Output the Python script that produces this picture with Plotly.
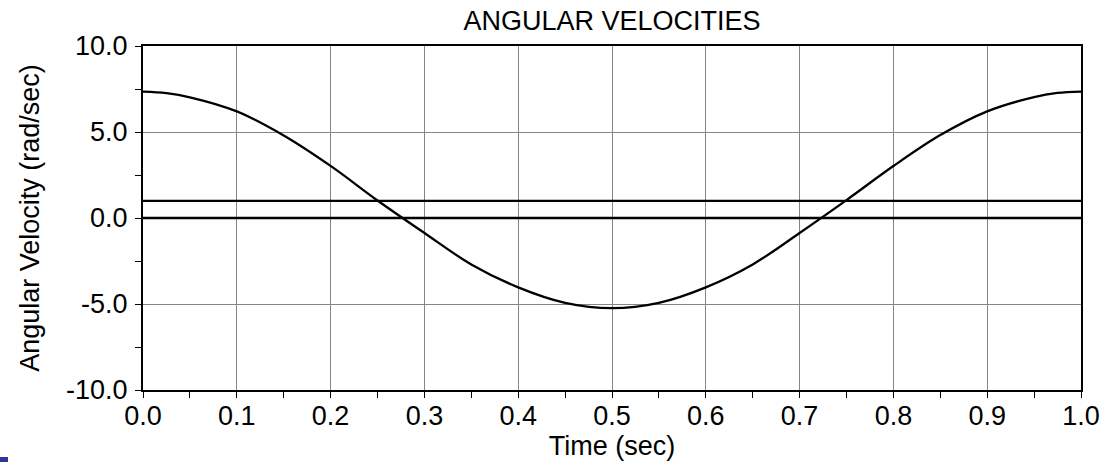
import plotly.graph_objects as go

time_s = [0.0, 0.025, 0.05, 0.1, 0.15, 0.2, 0.25, 0.3, 0.35, 0.4, 0.45, 0.5,
          0.55, 0.6, 0.65, 0.7, 0.75, 0.8, 0.85, 0.9, 0.95, 0.975, 1.0]
omega_main = [7.35, 7.26, 7.02, 6.2, 4.8, 3.03, 1.02, -0.87, -2.7, -4.03, -4.93, -5.24,
              -4.93, -4.03, -2.7, -0.87, 1.04, 3.02, 4.82, 6.2, 7.03, 7.27, 7.35]
omega_const1 = [1.0] * len(time_s)
omega_const0 = [0.0] * len(time_s)

x_ticks = [0.0, 0.1, 0.2, 0.3, 0.4, 0.5, 0.6, 0.7, 0.8, 0.9, 1.0]
y_ticks = [-10.0, -5.0, 0.0, 5.0, 10.0]
x_ticktext = [f"{v:.1f}" for v in x_ticks]
y_ticktext = [f"{v:.1f}" for v in y_ticks]

FONT = "Liberation Sans, Arial, sans-serif"
FS = 27

fig = go.Figure()
for ys in (omega_const0, omega_const1):
    fig.add_trace(go.Scatter(x=time_s, y=ys, mode="lines",
                             line=dict(color="black", width=2.3), showlegend=False))
fig.add_trace(go.Scatter(x=time_s, y=omega_main, mode="lines",
                         line=dict(color="black", width=2.3, shape="spline", smoothing=1.0),
                         showlegend=False))

axis_common = dict(
    showline=True, linecolor="black", linewidth=2, mirror=True,
    showgrid=True, gridcolor="#858585", gridwidth=1,
    ticks="outside", ticklen=6, tickcolor="black", tickwidth=1,
    tickfont=dict(family=FONT, size=FS, color="black"),
    zeroline=False, automargin=False,
)

fig.update_layout(
    width=1103, height=462,
    margin=dict(l=143, r=22, t=46, b=72),
    paper_bgcolor="white", plot_bgcolor="white",
    font=dict(family=FONT, color="black"),
    title=dict(text="ANGULAR VELOCITIES", x=612/1103, xanchor="center",
               y=1 - 21/462, yanchor="middle",
               font=dict(family=FONT, size=FS, color="black")),
    xaxis=dict(range=[0, 1], tickvals=x_ticks, ticktext=x_ticktext,
               ticklabelstandoff=-5,
               minor=dict(dtick=0.05, ticks="outside", ticklen=6, tickcolor="black", showgrid=False),
               title=dict(text="Time (sec)", standoff=0,
                          font=dict(family=FONT, size=FS, color="black")),
               **axis_common),
    yaxis=dict(range=[-10, 10], tickvals=y_ticks, ticktext=y_ticktext,
               ticklabelstandoff=2,
               minor=dict(dtick=2.5, ticks="outside", ticklen=6, tickcolor="black", showgrid=False),
               title=dict(text="Angular Velocity (rad/sec)", standoff=19,
                          font=dict(family=FONT, size=FS, color="black")),
               **axis_common),
    shapes=[dict(type="rect", xref="paper", yref="paper", x0=-143/938, x1=-135/938,
                 y0=-67/344, y1=-72/344, fillcolor="#333399", line=dict(width=0))],
)

fig.write_html("out.html", config={"displayModeBar": False},
               post_script="document.body.style.margin='0';document.body.style.overflow='hidden';")
